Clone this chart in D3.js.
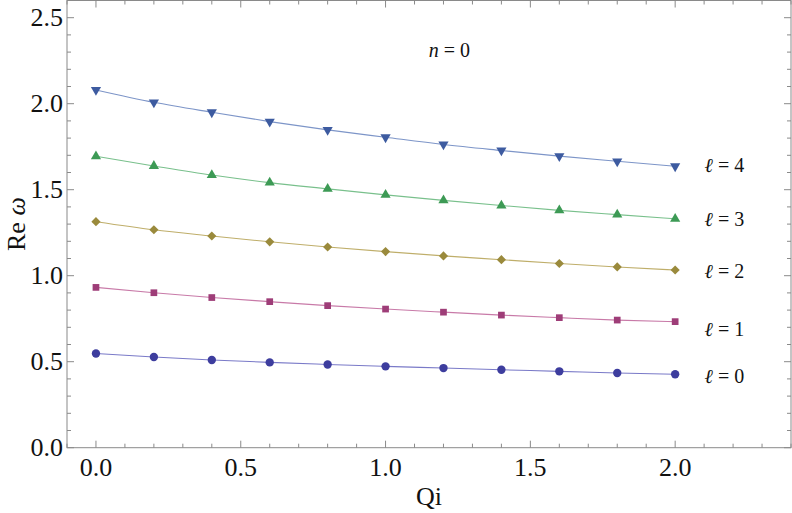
<!DOCTYPE html>
<html>
<head>
<meta charset="utf-8">
<script src="https://cdn.jsdelivr.net/npm/d3@7"></script>
<style>
  body { margin: 0; background: #fff; }
  #chart text { font-family: "Liberation Serif", Tinos, "Times New Roman", serif; fill: #111; }
</style>
</head>
<body>
<svg id="chart" width="792" height="513"></svg>
<script>
// data
var qi = [0, 0.2, 0.4, 0.6, 0.8, 1.0, 1.2, 1.4, 1.6, 1.8, 2.0]
var l0 = [0.548, 0.527, 0.510, 0.496, 0.484, 0.473, 0.463, 0.453, 0.444, 0.434, 0.427]
var l1 = [0.932, 0.901, 0.873, 0.849, 0.826, 0.806, 0.788, 0.771, 0.756, 0.742, 0.733]
var l2 = [1.314, 1.267, 1.231, 1.197, 1.167, 1.140, 1.115, 1.093, 1.071, 1.051, 1.033]
var l3 = [1.694, 1.638, 1.585, 1.541, 1.505, 1.470, 1.438, 1.408, 1.380, 1.355, 1.331]
var l4 = [2.080, 2.008, 1.950, 1.896, 1.848, 1.805, 1.763, 1.728, 1.695, 1.665, 1.636]
var seriesNames = ["0", "1", "2", "3", "4"]
var labelY = [0.415, 0.69, 1.03, 1.33, 1.645]
var xTicks = [0, 0.5, 1.0, 1.5, 2.0]
var yTicks = [0, 0.5, 1.0, 1.5, 2.0, 2.5]

var svg = d3.select("#chart")
var pLeft = 67, pRight = 791, pTop = 0.5, pBottom = 447.7

var x = d3.scaleLinear().domain([-0.1, 2.4]).range([pLeft, pRight])
var y = d3.scaleLinear().domain([0, 2.6]).range([pBottom, pTop])

var markColors = ["#3d3d9e", "#9e3d78", "#9a8a3c", "#3d9a55", "#3d5ba0"]
var lineColors = ["#7a7ac8", "#c87aa8", "#bfae6a", "#79c08c", "#7d95c8"]
var shapes = [d3.symbolCircle, d3.symbolSquare, d3.symbolSquare, d3.symbolTriangle, d3.symbolTriangle]
var sizes = [55, 45, 42, 45, 45]
var rots = [0, 0, 45, 0, 180]
var allSeries = [l0, l1, l2, l3, l4]

// frame with inward ticks
var frame = svg.append("g")
frame.append("rect")
  .attr("x", pLeft).attr("y", pTop)
  .attr("width", pRight - pLeft).attr("height", pBottom - pTop)
  .attr("fill", "none").attr("stroke", "#8a8a8a").attr("stroke-width", 1)

var xMinor = d3.range(-0.1, 2.41, 0.1).map(function(v){ return Math.round(v * 10) / 10 })
var yMinor = d3.range(0, 2.61, 0.1).map(function(v){ return Math.round(v * 10) / 10 })

function isMajor(v) { return Math.abs(v * 2 - Math.round(v * 2)) < 1e-6 }

xMinor.forEach(function(v){
  var len = isMajor(v) ? 7 : 4
  frame.append("line").attr("x1", x(v)).attr("x2", x(v)).attr("y1", pBottom).attr("y2", pBottom - len)
    .attr("stroke", "#8a8a8a")
  frame.append("line").attr("x1", x(v)).attr("x2", x(v)).attr("y1", pTop).attr("y2", pTop + len)
    .attr("stroke", "#8a8a8a")
})
yMinor.forEach(function(v){
  var len = isMajor(v) ? 7 : 4
  frame.append("line").attr("x1", pLeft).attr("x2", pLeft + len).attr("y1", y(v)).attr("y2", y(v))
    .attr("stroke", "#8a8a8a")
  frame.append("line").attr("x1", pRight).attr("x2", pRight - len).attr("y1", y(v)).attr("y2", y(v))
    .attr("stroke", "#8a8a8a")
})

svg.selectAll(".xlab").data(xTicks).enter().append("text")
  .attr("class", "xlab")
  .attr("x", function(d){ return x(d) }).attr("y", 476)
  .attr("text-anchor", "middle").style("font-size", "26px")
  .text(function(d){ return d.toFixed(1) })

svg.selectAll(".ylab").data(yTicks).enter().append("text")
  .attr("class", "ylab")
  .attr("x", 63).attr("y", function(d){ return y(d) + 8.5 })
  .attr("text-anchor", "end").style("font-size", "26px")
  .text(function(d){ return d.toFixed(1) })

svg.append("text").attr("x", (pLeft + pRight) / 2).attr("y", 505)
  .attr("text-anchor", "middle").style("font-size", "26px").text("Qi")

svg.append("text")
  .attr("transform", "translate(25," + ((pTop + pBottom) / 2) + ") rotate(-90)")
  .attr("text-anchor", "middle").style("font-size", "26px")
  .html('Re <tspan font-style="italic">ω</tspan>')

// curves and markers
var line = d3.line()
  .x(function(d, i){ return x(qi[i]) })
  .y(function(d){ return y(d) })
  .curve(d3.curveMonotoneX)

allSeries.forEach(function(vals, k){
  var g = svg.append("g")
  g.append("path").datum(vals).attr("d", line)
    .attr("fill", "none").attr("stroke", lineColors[k]).attr("stroke-width", 1.1)
  g.selectAll("path.pt").data(vals).enter().append("path")
    .attr("class", "pt")
    .attr("d", d3.symbol().type(shapes[k]).size(sizes[k]))
    .attr("transform", function(d, i){
      return "translate(" + x(qi[i]) + "," + y(d) + ") rotate(" + rots[k] + ")"
    })
    .attr("fill", markColors[k])
})

// series labels
seriesNames.forEach(function(nm, k){
  svg.append("text").attr("x", x(2.17)).attr("y", y(labelY[k]) + 7)
    .attr("text-anchor", "middle").style("font-size", "20px")
    .html('<tspan font-style="italic">ℓ</tspan> = ' + nm)
})

svg.append("text").attr("x", x(1.22)).attr("y", 57)
  .attr("text-anchor", "middle").style("font-size", "20px")
  .html('<tspan font-style="italic">n</tspan> = 0')
</script>
</body>
</html>
